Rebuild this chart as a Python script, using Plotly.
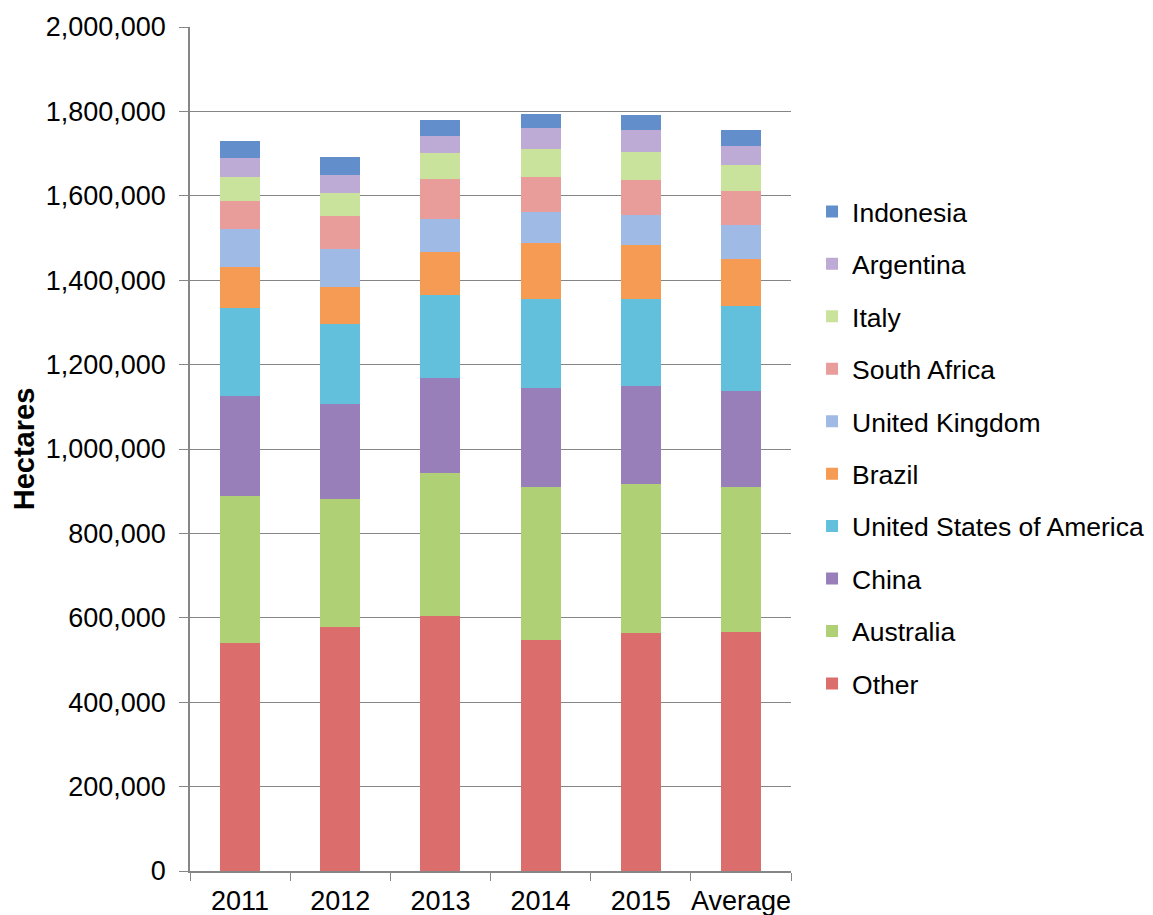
import plotly.graph_objects as go

categories = ["2011", "2012", "2013", "2014", "2015", "Average"]

other = [540000, 579000, 605000, 547000, 565000, 567000]
australia = [349000, 302000, 339000, 364000, 351000, 342000]
china = [237000, 226000, 224000, 233000, 233000, 228000]
usa = [209000, 189000, 197000, 212000, 206000, 203000]
brazil = [96000, 87000, 102000, 131000, 128000, 110000]
uk = [90000, 92000, 79000, 74000, 72000, 82000]
south_africa = [67000, 76000, 93000, 84000, 82000, 80000]
italy = [56000, 56000, 63000, 65000, 67000, 62000]
argentina = [46000, 42000, 40000, 51000, 53000, 44000]
indonesia = [41000, 44000, 37000, 34000, 35000, 39000]

series = [
    ("Other", other, "#DB6E6C"),
    ("Australia", australia, "#AFD075"),
    ("China", china, "#997FBA"),
    ("United States of America", usa, "#63C0DC"),
    ("Brazil", brazil, "#F59B53"),
    ("United Kingdom", uk, "#A0BAE6"),
    ("South Africa", south_africa, "#E89D9A"),
    ("Italy", italy, "#C9E39D"),
    ("Argentina", argentina, "#BDABD5"),
    ("Indonesia", indonesia, "#638ECC"),
]

fig = go.Figure()
n = len(series)
for i, (name, vals, color) in enumerate(series):
    fig.add_trace(go.Bar(
        x=categories, y=vals, name=name, legendgroup=name,
        legendrank=n - i,
        marker=dict(color=color, line=dict(width=0)),
    ))

font_family = "Liberation Sans, Arial, sans-serif"

fig.update_layout(
    barmode="stack",
    bargap=0.6,
    width=1153, height=915,
    margin=dict(l=182, r=361, t=19, b=52),
    plot_bgcolor="white",
    paper_bgcolor="white",
    font=dict(family=font_family, size=27, color="black"),
    legend=dict(
        traceorder="grouped",
        tracegroupgap=15,
        x=1.035, xanchor="left",
        y=0.8096, yanchor="top",
        font=dict(size=26.5),
        bgcolor="rgba(0,0,0,0)",
    ),
    xaxis=dict(
        showline=True, linecolor="#868686", linewidth=1.5,
        ticks="outside", tickson="boundaries", ticklen=8, tickcolor="#868686",
        tickfont=dict(size=27), tickangle=0, automargin=False,
        ticklabelstandoff=5,
    ),
    yaxis=dict(
        range=[0, 2000000], dtick=200000, tickformat=",",
        showline=True, linecolor="#868686", linewidth=1.5,
        showgrid=True, gridcolor="#868686", gridwidth=1.3,
        ticks="outside", ticklen=9, tickcolor="#868686",
        ticklabelstandoff=8,
        tickfont=dict(size=27),
        zeroline=False, automargin=False,
        title=dict(text="<b>Hectares</b>", font=dict(size=29), standoff=6),
    ),
)

fig.write_html("out.html")
